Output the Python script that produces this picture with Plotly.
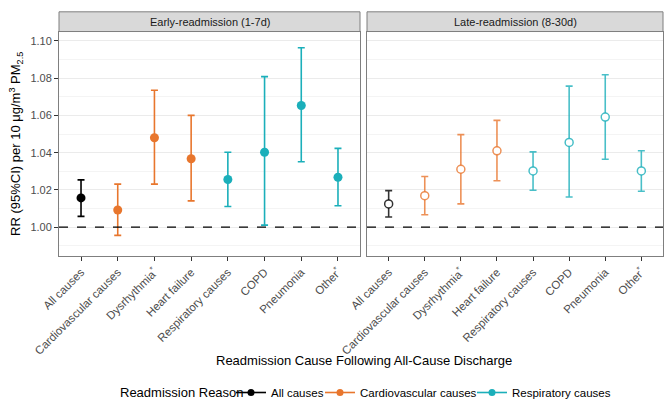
import plotly.graph_objects as go

categories = ["All causes", "Cardiovascular causes", "Dysrhythmia*", "Heart failure",
              "Respiratory causes", "COPD", "Pneumonia", "Other*"]
tick_labels = ["All causes", "Cardiovascular causes", "Dysrhythmia<sup>*</sup>", "Heart failure",
               "Respiratory causes", "COPD", "Pneumonia", "Other<sup>*</sup>"]
groups = ["All causes", "Cardiovascular causes", "Cardiovascular causes", "Cardiovascular causes",
          "Respiratory causes", "Respiratory causes", "Respiratory causes", "Respiratory causes"]

early_rr = [1.0157, 1.0092, 1.0480, 1.0367, 1.0256, 1.0402, 1.0653, 1.0268]
early_lo = [1.0058, 0.9956, 1.0231, 1.0141, 1.0111, 1.0011, 1.0351, 1.0115]
early_hi = [1.0254, 1.0231, 1.0735, 1.0600, 1.0402, 1.0808, 1.0963, 1.0423]

late_rr = [1.0125, 1.0169, 1.0311, 1.0410, 1.0302, 1.0455, 1.0591, 1.0302]
late_lo = [1.0055, 1.0067, 1.0125, 1.0249, 1.0198, 1.0162, 1.0365, 1.0193]
late_hi = [1.0196, 1.0272, 1.0497, 1.0573, 1.0404, 1.0757, 1.0818, 1.0410]

panels = ["Early-readmission (1-7d)", "Late-readmission (8-30d)"]
legend_groups = ["All causes", "Cardiovascular causes", "Respiratory causes"]
colors = {"All causes": "#000000", "Cardiovascular causes": "#E8762D", "Respiratory causes": "#1BAFBA"}
late_colors = {"All causes": "rgba(0,0,0,0.8)", "Cardiovascular causes": "rgba(232,118,45,0.8)",
               "Respiratory causes": "rgba(27,175,186,0.8)"}

FONT = "Liberation Sans, Arial, sans-serif"
W, H = 665, 407
H_EFF = 398  # vertical extent observed in the rendered picture
def px_x(p): return p / W
def px_y(p): return 1 - p / H_EFF

fig = go.Figure()

for pi, (rr, lo, hi) in enumerate([(early_rr, early_lo, early_hi), (late_rr, late_lo, late_hi)]):
    xa = "x" if pi == 0 else "x2"
    ya = "y" if pi == 0 else "y2"
    for g in legend_groups:
        idx = [i for i, gg in enumerate(groups) if gg == g]
        xs = [categories[i] for i in idx]
        ys = [rr[i] for i in idx]
        up = [hi[i] - rr[i] for i in idx]
        dn = [rr[i] - lo[i] for i in idx]
        col = colors[g] if pi == 0 else late_colors[g]
        if pi == 0:
            marker = dict(size=9, color=colors[g], line=dict(width=0))
        else:
            marker = dict(size=8, color="white", line=dict(width=1.5, color=col))
        fig.add_trace(go.Scatter(
            x=xs, y=ys, mode="markers", xaxis=xa, yaxis=ya,
            marker=marker, showlegend=False, hoverinfo="skip",
            error_y=dict(type="data", symmetric=False, array=up, arrayminus=dn,
                         color=col, thickness=1.6, width=3.5),
        ))

legend_names = ["legend", "legend2", "legend3"]
for g, ln in zip(legend_groups, legend_names):
    fig.add_trace(go.Scatter(
        x=[None], y=[None], mode="lines+markers", name=g, legend=ln,
        line=dict(color=colors[g], width=1.6), marker=dict(color=colors[g], size=7),
        xaxis="x", yaxis="y",
    ))

xl = (59, 360)
xr = (367, 663)
ytop, ybot = 32, 260

axis_common = dict(
    type="category", categoryorder="array", categoryarray=categories,
    tickvals=categories, ticktext=tick_labels, tickangle=-45,
    range=[-0.6, 7.6], showgrid=False, zeroline=False, automargin=False,
    ticks="outside", ticklen=4, tickcolor="#333333", tickwidth=1,
    tickfont=dict(family=FONT, size=11.5, color="#4D4D4D"),
    showline=True, linecolor="#7F7F7F", linewidth=1, mirror=True,
)
ycommon = dict(domain=[px_y(ybot), px_y(ytop)], range=[0.9845, 1.105],
               tickvals=[1.00, 1.02, 1.04, 1.06, 1.08, 1.10], tickformat=".2f",
               showgrid=True, gridcolor="#EBEBEB", gridwidth=1,
               minor=dict(tickvals=[0.99, 1.01, 1.03, 1.05, 1.07, 1.09], showgrid=True,
                          gridcolor="#F4F4F4", gridwidth=1),
               zeroline=False, automargin=False,
               showline=True, linecolor="#7F7F7F", linewidth=1, mirror=True)

leg_common = dict(orientation="h", yanchor="middle", y=px_y(399), xanchor="left",
                  font=dict(family=FONT, size=11.5, color="#000000"),
                  bgcolor="rgba(0,0,0,0)", borderwidth=0)
text_starts = [273, 362, 514]
legends = {}
for ln, ts in zip(legend_names, text_starts):
    legends[ln] = dict(x=px_x(ts - 42), **leg_common)

fig.update_layout(
    xaxis=dict(domain=[px_x(xl[0]), px_x(xl[1])], anchor="y", **axis_common),
    xaxis2=dict(domain=[px_x(xr[0]), px_x(xr[1])], anchor="y2", **axis_common),
    yaxis=dict(anchor="x", ticks="outside", ticklen=4, tickcolor="#333333",
               tickfont=dict(family=FONT, size=11, color="#4D4D4D"),
               title=dict(text="RR (95%CI) per 10 μg/m<sup>3</sup> PM<sub>2.5</sub>",
                          font=dict(family=FONT, size=13, color="#000000"), standoff=6),
               **ycommon),
    yaxis2=dict(anchor="x2", showticklabels=False, ticks="", **ycommon),
    width=W, height=H, autosize=False, margin=dict(l=0, r=0, t=0, b=0),
    plot_bgcolor="white", paper_bgcolor="white",
    showlegend=True, hovermode=False,
    **legends,
)

# strip headers and dashed reference line
for (x0, x1), label, xa, ya in [(xl, panels[0], "x", "y"), (xr, panels[1], "x2", "y2")]:
    fig.add_shape(type="rect", xref="paper", yref="paper",
                  x0=px_x(x0), x1=px_x(x1), y0=px_y(ytop), y1=px_y(12),
                  fillcolor="#D9D9D9", line=dict(color="#7F7F7F", width=1), layer="below")
    fig.add_annotation(text=label, xref="paper", yref="paper",
                       x=(px_x(x0) + px_x(x1)) / 2, y=(px_y(ytop) + px_y(12)) / 2,
                       showarrow=False, xanchor="center", yanchor="middle",
                       font=dict(family=FONT, size=11, color="#1A1A1A"))
    fig.add_shape(type="line", xref=f"{xa} domain", yref=ya, x0=0, x1=1, y0=1.0, y1=1.0,
                  line=dict(color="#000000", width=1.2, dash="dash"))

fig.add_annotation(text="Readmission Cause Following All-Cause Discharge", xref="paper", yref="paper",
                   x=px_x(364), y=px_y(366), showarrow=False, xanchor="center", yanchor="middle",
                   font=dict(family=FONT, size=13, color="#000000"))
fig.add_annotation(text="Readmission Reason", xref="paper", yref="paper",
                   x=px_x(118), y=px_y(399), showarrow=False, xanchor="left", yanchor="middle",
                   font=dict(family=FONT, size=13, color="#000000"))

post = ("document.documentElement.style.margin='0px';"
        "document.documentElement.style.overflow='hidden';"
        "document.body.style.margin='0px';"
        "document.body.style.overflow='hidden';"
        "var gd=document.getElementById('{plot_id}');"
        "gd.style.position='fixed';gd.style.left='0px';gd.style.top='0px';"
        "Plotly.relayout(gd, {width: %d, height: %d});" % (W, H))
fig.write_html("out.html", post_script=post, config={"displayModeBar": False})
